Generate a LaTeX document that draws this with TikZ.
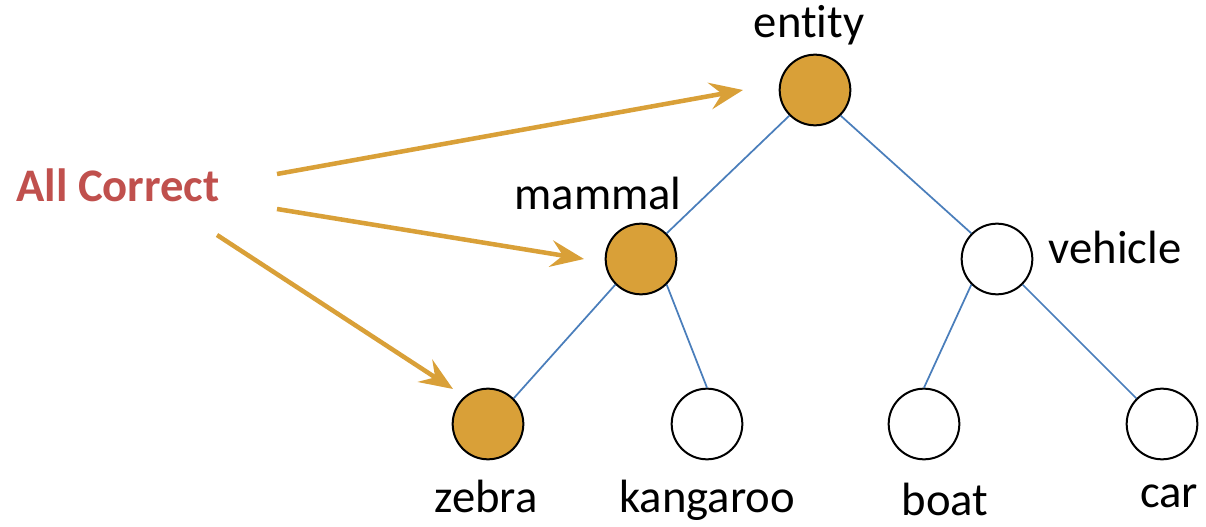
\documentclass[tikz,border=0pt]{standalone}
\usepackage{fontspec}
\setmainfont{Carlito}[Ligatures=NoCommon]
\usetikzlibrary{arrows.meta}
\definecolor{gold}{HTML}{D9A038}
\definecolor{brickred}{HTML}{C0504D}
\definecolor{linkblue}{HTML}{4A7EBB}

\begin{document}
\begin{tikzpicture}[x=0.75pt,y=-0.75pt,font=\fontsize{35}{42}\selectfont,
  concept/.style={circle,draw,line width=1.5pt,minimum size=53pt,inner sep=0pt},
  hit/.style={concept,fill=gold},
  link/.style={linkblue,line width=1.3pt},
  pointer/.style={gold,line width=3.4pt,-{Stealth[length=25pt,width=20pt,inset=9pt]}}]
  \useasboundingbox (0,0) rectangle (1206,527);
  % tree nodes (x/y in px, y downwards)
  \foreach \name/\x/\y/\sty in {entity/815/90/hit,mammal/641/259/hit,vehicle/997/259/concept,zebra/488/424/hit,kangaroo/707/424/concept,boat/924/424/concept,car/1162/424/concept}
    \node[\sty] (\name) at (\x,\y) {};
  \foreach \name/\x/\y in {entity/809/38,mammal/598/210,vehicle/1115/263,zebra/486/512,kangaroo/707/512,boat/945/515,car/1169/507}
    \node[anchor=base] (\name-lbl) at (\x,\y) {\name};
  % hierarchy edges
  \draw[link] (entity.south west) -- (mammal.north east);
  \draw[link] (entity.south east) -- (vehicle.north west);
  \draw[link] (mammal.south west) -- (zebra.north east);
  \draw[link] (mammal.south east) -- (kangaroo.north);
  \draw[link] (vehicle.south west) -- (boat.north);
  \draw[link] (vehicle.south east) -- (car.north west);
  % prediction marker
  \node[anchor=base,text=brickred,font=\fontsize{35}{42}\selectfont\bfseries] (allcorrect) at (118,202) {All Correct};
  \coordinate (src1) at (277,174);
  \coordinate (src2) at (277,209);
  \coordinate (src3) at (217,235);
  \coordinate (tip1) at (743,90);
  \coordinate (tip2) at (584,259);
  \coordinate (tip3) at (453,389);
  \draw[pointer] (src1) -- (tip1);
  \draw[pointer] (src2) -- (tip2);
  \draw[pointer] (src3) -- (tip3);
\end{tikzpicture}
\end{document}
